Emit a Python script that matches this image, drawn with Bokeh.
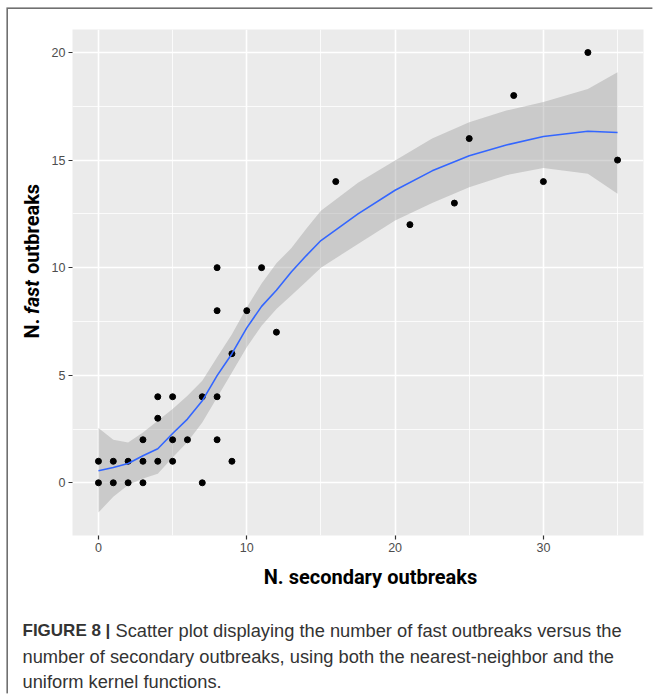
import math
from bokeh.plotting import figure
from bokeh.layouts import column, row
from bokeh.models import Range1d, FixedTicker, Spacer
from bokeh.core.properties import value
from bokeh.embed import file_html
from bokeh.resources import INLINE

# ---------------- data ----------------
secondary = [0, 0, 1, 1, 2, 2, 3, 3, 3, 4, 4, 4, 5, 5, 5, 6, 7, 7, 8, 8, 8, 8,
             9, 9, 10, 11, 12, 16, 21, 24, 25, 28, 30, 33, 35]
fast = [0, 1, 0, 1, 0, 1, 0, 1, 2, 1, 3, 4, 4, 2, 1, 2, 0, 4, 4, 2, 8, 10,
        1, 6, 8, 10, 7, 14, 12, 13, 16, 18, 14, 20, 15]

smooth_x = [0, 1, 2, 3, 4, 5, 6, 7, 8, 9, 10, 11, 12, 13, 14, 15, 17.5, 20,
            22.5, 25, 27.5, 30, 33, 35]
smooth_fit = [0.56, 0.71, 0.90, 1.26, 1.58, 2.29, 2.96, 3.81, 4.98, 6.0, 7.2,
              8.2, 8.95, 9.8, 10.55, 11.26, 12.5, 13.6, 14.5, 15.2, 15.7,
              16.1, 16.34, 16.28]
smooth_hi = [2.55, 2.0, 1.87, 2.34, 2.88, 3.43, 4.05, 4.74, 5.83, 6.9, 8.15,
             9.26, 10.2, 10.9, 11.8, 12.65, 13.95, 14.98, 16.0, 16.76, 17.3,
             17.7, 18.3, 19.08]
smooth_lo = [-1.38, -0.65, -0.1, 0.2, 0.42, 1.18, 1.9, 2.8, 3.97, 5.13, 6.3,
             7.3, 8.08, 8.7, 9.35, 10.0, 11.1, 12.19, 13.0, 13.74, 14.3,
             14.63, 14.36, 13.43]

x_ticks = [0, 10, 20, 30]
x_minor = [-5, 5, 15, 25, 35]
y_ticks = [0, 5, 10, 15, 20]
y_minor = [-2.5, 2.5, 7.5, 12.5, 17.5]

x_title = "N. secondary outbreaks"
y_title_parts = ["N.", "fast", "outbreaks"]
caption_bold = "FIGURE 8 |"
caption_lines = [
    "Scatter plot displaying the number of fast outbreaks versus the",
    "number of secondary outbreaks, using both the nearest-neighbor and the",
    "uniform kernel functions.",
]

# ---------------- geometry (page pixels) ----------------
W, H = 654, 695
OX, OY = 8, 9                # where the bordered box starts on the page
LEFT_R = 44                  # right edge of the y-title strip
FL, FR, FT, FB = 72, 643, 29, 535
CAP_T = 560                  # lower strip (x title + caption) starts here
BORDER = "#707070"
TFONT = "Roboto"
CFONT = "Liberation Sans"


def strip(w, h, bottom_border=0, top_border=0):
    f = figure(width=w, height=h, output_backend="svg", toolbar_location=None,
               x_range=Range1d(0, w), y_range=Range1d(0, h - bottom_border - top_border),
               x_axis_type=None, y_axis_type=None,
               min_border=0, min_border_bottom=bottom_border,
               min_border_top=top_border, outline_line_color=None)
    f.xgrid.visible = False
    f.ygrid.visible = False
    f.background_fill_color = "white"
    f.border_fill_color = "white"
    return f


main_h = CAP_T - OY

# y-title strip (frame aligned with the plot frame: page y FT..FB)
left = strip(LEFT_R - OX, main_h, bottom_border=CAP_T - FB, top_border=FT - OY)
start = 338
offs = [0, 24.5, 64.5]
styles = ["bold", "bold italic", "bold"]
for part, off, st in zip(y_title_parts, offs, styles):
    left.text(x=[31 - OX], y=[FB - (start - off)], text=[part], angle=math.pi / 2,
              text_align="left", text_baseline="middle",
              text_font=value(TFONT), text_font_style=st,
              text_font_size="20px", text_color="black")

# main figure
p = figure(width=W - LEFT_R, height=main_h, output_backend="svg",
           toolbar_location=None,
           x_range=Range1d(-1.75, 36.75), y_range=Range1d(-2.45, 21.07),
           min_border_left=FL - LEFT_R, min_border_right=W - FR,
           min_border_top=FT - OY, min_border_bottom=CAP_T - FB)
p.background_fill_color = "#EBEBEB"
p.border_fill_color = "white"
p.outline_line_color = None

p.xaxis.ticker = FixedTicker(ticks=x_ticks, minor_ticks=x_minor)
p.yaxis.ticker = FixedTicker(ticks=y_ticks, minor_ticks=y_minor)
for g in (p.xgrid, p.ygrid):
    g.grid_line_color = "white"
    g.grid_line_width = 1.6
    g.minor_grid_line_color = "white"
    g.minor_grid_line_width = 0.8

for ax in (p.xaxis, p.yaxis):
    ax.axis_line_color = None
    ax.minor_tick_line_color = None
    ax.major_tick_line_color = "#333333"
    ax.major_tick_line_width = 1.2
    ax.major_tick_out = 4
    ax.major_tick_in = 0
    ax.major_label_text_color = "#4D4D4D"
    ax.major_label_text_font = "Liberation Sans"
    ax.major_label_text_font_size = "12.5px"
    ax.major_label_standoff = 3

p.varea(x=smooth_x, y1=smooth_lo, y2=smooth_hi, fill_color="#999999", fill_alpha=0.4)
p.scatter(secondary, fast, size=6, color="black")
p.line(smooth_x, smooth_fit, line_color="#3366FF", line_width=1.6)

# lower strip: x title + caption ; data x = page_x - OX, data y = H - page_y
cap = strip(W - OX, H - CAP_T)
cap.text(x=[370 - OX], y=[H - 576], text=[x_title], text_align="center",
         text_baseline="middle", text_font=value(TFONT), text_font_style="bold",
         text_font_size="20px", text_color="black")
cy = [630, 656, 681]
cap.text(x=[22 - OX], y=[H - cy[0]], text=[caption_bold], text_align="left",
         text_baseline="middle", text_font=value(CFONT), text_font_style="bold",
         text_font_size="17px", text_color="#333333")
for i, line in enumerate(caption_lines):
    cap.text(x=[(115 if i == 0 else 22) - OX], y=[H - cy[i]], text=[line],
             text_align="left", text_baseline="middle", text_font=value(CFONT),
             text_font_size="18.3px", text_color="#333333")

inner = column(row(left, p), cap,
               styles={"box-shadow": f"-1.6px -1.6px 0 0 {BORDER}"})
layout = row(Spacer(width=OX, height=H), column(Spacer(width=W - OX, height=OY), inner))
open("out.html", "w").write(file_html(layout, INLINE))
